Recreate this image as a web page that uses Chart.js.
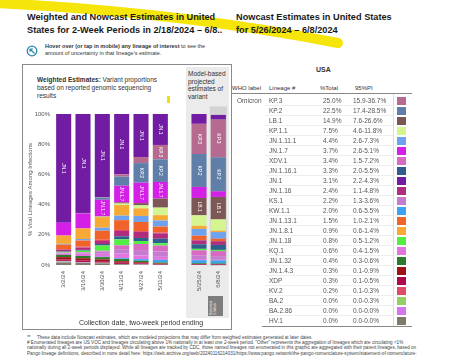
<!DOCTYPE html>
<html><head><meta charset="utf-8">
<script src="https://cdn.jsdelivr.net/npm/chart.js@4/dist/chart.umd.min.js"></script>
<style>
body{margin:0;width:450px;height:364px;overflow:hidden;background:#fff;font-family:"Liberation Sans",Arial,sans-serif;position:relative;color:#333;}
.abs{position:absolute;white-space:nowrap;}
.ttl{font-weight:bold;font-size:9.2px;line-height:13px;color:#1a1a1a;}
.row{position:absolute;font-size:6.5px;color:#555;white-space:nowrap;}
</style></head><body>
<svg class="abs" style="left:0;top:0" width="450" height="60"><path d="M -5 3 Q 180 12 338 43" stroke="#f5e50a" stroke-width="10" fill="none" stroke-linecap="round"/></svg>
<div class="abs ttl" style="left:27px;top:11px;width:199px;overflow:hidden;">Weighted and Nowcast Estimates in United<br>States for 2-Week Periods in 2/18/2024 – 6/8..</div>
<div class="abs ttl" style="left:236px;top:11px;">Nowcast Estimates in United States<br>for 5/26/2024 – 6/8/2024</div>
<svg class="abs" style="left:26px;top:45px" width="12" height="12"><circle cx="6" cy="6" r="4.8" fill="none" stroke="#2a86ad" stroke-width="1.3"/><path d="M4 4 L8.5 8.5 M4 4 L4 7 M4 4 L7 4" stroke="#2a86ad" stroke-width="1.1" fill="none"/></svg>
<div class="abs" style="left:45px;top:43px;font-size:5.5px;line-height:7px;color:#333;"><b>Hover over (or tap in mobile) any lineage of interest</b> to see the<br>amount of uncertainty in that lineage's estimate.</div>
<div class="abs" style="left:22px;top:64px;width:208px;height:264px;border:1px solid #8a8a8a;"></div>
<div class="abs" style="left:186px;top:67px;width:43px;height:251px;background:#ebebeb;"></div>
<div class="abs" style="left:37px;top:76px;font-size:6.5px;line-height:8px;color:#333;"><b>Weighted Estimates:</b> Variant proportions<br>based on reported genomic sequencing<br>results</div>
<div class="abs" style="left:188px;top:70px;font-size:6.5px;line-height:7.5px;color:#333;">Model-based<br>projected<br>estimates of<br>variant</div>
<div class="abs" style="left:167px;top:96px;width:3px;height:7px;background:#f2e000;"></div>
<div class="abs" style="left:208px;top:296px;width:15px;height:20px;background:#7d7d7d;"></div>
<div class="abs" style="left:209px;top:315px;transform-origin:0 0;transform:rotate(-90deg);font-size:3.6px;line-height:4.2px;color:#fff;">Selected<br>2-Week</div>
<div id="wrap" class="abs" style="left:22px;top:64px;width:210px;height:266px;"><canvas id="c"></canvas></div>
<div class="abs" style="left:27px;top:335px;width:398px;overflow:hidden;font-size:4.6px;line-height:5.2px;color:#444;">**&nbsp;&nbsp;&nbsp;&nbsp;&nbsp;These data include Nowcast estimates, which are modeled projections that may differ from weighted estimates generated at later dates.<br># Enumerated lineages are US VOC and lineages circulating above 1% nationally in at least one 2-week period. "Other" represents the aggregation of lineages which are circulating &lt;1%<br>nationally during all 2-week periods displayed. While all lineages are tracked by CDC, those named lineages not enumerated in this graphic are aggregated with their parent lineages, based on<br>Pango lineage definitions, described in more detail here: https://web.archive.org/web/20240116214031/https://www.pango.network/the-pango-nomenclature-system/statement-of-nomenclature-</div>
<div id="tbl"></div>
<script>
// ---- data ----
const periods = ['3/2/24','3/16/24','3/30/24','4/13/24','4/27/24','5/11/24','','5/25/24','6/8/24'];
const yTicks = [0,20,40,60,80,100];

const tableLineages = ['KP.3','KP.2','LB.1','KP.1.1','JN.1.11.1','JN.1.7','XDV.1','JN.1.16.1','JN.1','JN.1.16','KS.1','KW.1.1','JN.1.13.1','JN.1.8.1','JN.1.18','KQ.1','JN.1.32','JN.1.4.3','XDP','KV.2','BA.2','BA.2.86','HV.1'];
const tablePct = [25.0,22.5,14.9,7.5,4.4,3.7,3.4,3.3,3.1,2.4,2.2,2.0,1.5,0.9,0.8,0.6,0.4,0.3,0.3,0.2,0.0,0.0,0.0];
const tablePI = ['15.9-36.7%','17.4-28.5%','7.6-26.6%','4.6-11.8%','2.6-7.3%','2.6-5.1%','1.5-7.2%','2.0-5.5%','2.2-4.3%','1.1-4.8%','1.3-3.6%','0.6-5.5%','1.0-2.1%','0.6-1.4%','0.5-1.2%','0.4-1.5%','0.3-0.6%','0.1-0.9%','0.1-0.5%','0.1-0.3%','0.0-0.3%','0.0-0.0%','0.0-0.0%'];
const tableColors = ['#b66a8f','#5f7ea8','#7d5656','#d4f590','#6ea2ee','#d41fe6','#d86ac4','#2e5e8e','#721ca3','#b02c7c','#c47bd0','#3ca2f2','#f2632a','#f7a936','#52ee44','#e274e0','#2c7a2c','#9c1414','#b0084e','#e24a6a','#92d066','#d476f2','#7e7a6c'];

// period values (% of infections); null marks the gap between weighted and nowcast bars
const sJN1      = [72, 65.5, 55, 40, 28.5, 20.5, null, 6.5, 3.1];
const sKP3      = [0, 0, 0.3, 1.5, 4, 9.5, null, 20, 25.0];
const sKP2      = [0, 0.3, 1.5, 6, 13, 15, null, 21.8, 22.5];
const sJN17     = [8.5, 10, 11, 11, 13.5, 11, null, 7.3, 3.7];
const sLB1      = [0, 0, 0.2, 0.8, 1.5, 6, null, 11.5, 14.9];
const sKP11     = [0, 0, 0.3, 1, 2, 5, null, 7, 7.5];
const sJN181    = [5.5, 7, 7, 7, 5, 3.5, null, 2, 0.9];
const sJN1111   = [0.5, 1, 2, 3, 4, 4, null, 4.5, 4.4];
const sJN1131   = [3, 4, 6, 6.5, 6, 4, null, 2.8, 1.5];
const sKV2      = [0.5, 0.7, 0.8, 0.7, 0.6, 0.5, null, 0.3, 0.2];
const sJN116    = [1, 1.5, 2, 3.5, 4, 3.6, null, 2.6, 2.4];
const sJN1161   = [0.3, 0.5, 1, 2, 2, 3, null, 3, 3.3];
const sJN118    = [0.5, 1, 3.5, 4, 2, 1.5, null, 1, 0.8];
const sXDV1     = [0, 0.2, 0.5, 2.5, 4, 4, null, 3.5, 3.4];
const sKS1      = [0.5, 0.8, 1.5, 3, 3.5, 3.5, null, 2.3, 2.2];
const sKQ1      = [1, 1.5, 2, 3, 2.5, 2, null, 0.7, 0.6];
const sKW11     = [0, 0, 0.2, 0.5, 1.1, 1.7, null, 2, 2.0];
const sJN132    = [1.5, 1.5, 1.5, 1.5, 1, 0.7, null, 0.5, 0.4];
const sJN143    = [1.5, 1.5, 1.2, 1, 0.7, 0.5, null, 0.4, 0.3];
const sXDP      = [1, 1, 1, 0.8, 0.6, 0.4, null, 0.3, 0.3];
const sBA2      = [0.5, 0.3, 0.2, 0.1, 0.1, 0, null, 0, 0];
const sBA286    = [0.5, 0.3, 0.2, 0.1, 0.1, 0, null, 0, 0];
const sHV1      = [1.7, 1.4, 1.1, 0.5, 0.3, 0.1, null, 0, 0];

// stacking order, top of bar to bottom
const stackOrder = [['JN.1',sJN1],['KP.3',sKP3],['KP.2',sKP2],['JN.1.7',sJN17],['LB.1',sLB1],['KP.1.1',sKP11],['JN.1.8.1',sJN181],['JN.1.11.1',sJN1111],['JN.1.13.1',sJN1131],['KV.2',sKV2],['JN.1.16',sJN116],['JN.1.16.1',sJN1161],['JN.1.18',sJN118],['XDV.1',sXDV1],['KS.1',sKS1],['KQ.1',sKQ1],['KW.1.1',sKW11],['JN.1.32',sJN132],['JN.1.4.3',sJN143],['XDP',sXDP],['BA.2',sBA2],['BA.2.86',sBA286],['HV.1',sHV1]];

const colorOf = n => tableColors[tableLineages.indexOf(n)];

// ---- table ----
(function(){
  const t = document.getElementById('tbl');
  let h = '';
  h += '<div class="abs" style="left:316px;top:66px;font-size:7px;font-weight:bold;color:#333;">USA</div>';
  h += '<div class="row" style="left:232px;top:85px;font-size:6px;color:#333;">WHO label</div>';
  h += '<div class="row" style="left:269px;top:85px;font-size:6px;color:#333;">Lineage #</div>';
  h += '<div class="row" style="left:320px;top:85px;font-size:6px;color:#333;">%Total</div>';
  h += '<div class="row" style="left:355px;top:85px;font-size:6px;color:#333;">95%PI</div>';
  h += '<div class="abs" style="left:232px;top:93px;width:180px;height:1px;background:#888;"></div>';
  h += '<div class="abs" style="left:231px;top:94px;width:1px;height:233px;background:#888;"></div>';
  h += '<div class="abs" style="left:393px;top:94px;width:1px;height:232px;background:#ddd;"></div>';
  h += '<div class="row" style="left:237px;top:97px;">Omicron</div>';
  tableLineages.forEach((n,i)=>{
    const y = 97 + i*10;
    h += `<div class="row" style="left:269px;top:${y}px;">${n}</div>`;
    h += `<div class="row" style="left:323px;top:${y}px;">${tablePct[i].toFixed(1)}%</div>`;
    h += `<div class="row" style="left:353px;top:${y}px;">${tablePI[i]}</div>`;
    h += `<div class="abs" style="left:397px;top:${y-0.5}px;width:9px;height:8px;background:${tableColors[i]};"></div>`;
    if(i>0) h += `<div class="abs" style="left:265px;top:${y-2}px;width:128px;height:1px;background:#eee;"></div>`;
  });
  h += '<div class="abs" style="left:262px;top:326px;width:150px;height:1px;background:#888;"></div>';
  t.innerHTML = h;
})();

// ---- chart ----
const highlightPlugin = {
  id:'hl',
  beforeDatasetsDraw(chart){
    const ctx = chart.ctx, x = chart.scales.x, y = chart.scales.y;
    const el = chart.getDatasetMeta(0).data[8];
    const bw = el.width;
    const top = y.getPixelForValue(105);
    ctx.save(); ctx.fillStyle = '#d3d3d3';
    ctx.fillRect(x.getPixelForValue(8) - bw/2 - 1, top, bw + 2, chart.chartArea.bottom - top + 1);
    ctx.restore();
  }
};
const labelPlugin = {
  id:'lbl',
  afterDatasetsDraw(chart){
    const ctx = chart.ctx;
    ctx.save();
    ctx.font = '5px "Liberation Sans", Arial';
    ctx.fillStyle = '#fff'; ctx.textAlign = 'center'; ctx.textBaseline = 'middle';
    chart.data.datasets.forEach((ds,i)=>{
      chart.getDatasetMeta(i).data.forEach((el,j)=>{
        if(ds.data[j]==null) return;
        const h = Math.abs(el.base - el.y);
        const w = ctx.measureText(ds.label).width;
        if(h >= w + 2){
          ctx.save(); ctx.translate(el.x, (el.y + el.base)/2); ctx.rotate(Math.PI/2);
          ctx.fillText(ds.label, 0, 0); ctx.restore();
        }
      });
    });
    ctx.restore();
  }
};

const datasets = stackOrder.slice().reverse().map(([name, data]) => ({
  label:name, data, backgroundColor:colorOf(name), borderWidth:0,
  barPercentage:0.78, categoryPercentage:1.0, stack:'s'
}));

new Chart(document.getElementById('c'), {
  type:'bar',
  data:{labels:periods, datasets},
  plugins:[highlightPlugin, labelPlugin],
  options:{
    responsive:true, maintainAspectRatio:false, animation:false, devicePixelRatio:1,
    layout:{padding:{top:50,right:4,left:0,bottom:0}},
    plugins:{legend:{display:false}, tooltip:{enabled:false}},
    scales:{
      x:{stacked:true, grid:{display:false, drawTicks:false}, border:{display:false},
         afterFit:s=>{s.height=65;},
         ticks:{font:{size:6, family:'"Liberation Sans", Arial'}, color:'#555', minRotation:90, maxRotation:90, padding:6, autoSkip:false},
         title:{display:true, text:'Collection date, two-week period ending', font:{size:7, family:'"Liberation Sans", Arial'}, color:'#333', padding:{top:0,bottom:3}}},
      y:{stacked:true, min:0, max:100, grid:{display:false, drawTicks:false}, border:{display:false},
         afterFit:s=>{s.width=32;},
         afterBuildTicks:s=>{s.ticks = yTicks.map(v=>({value:v}));},
         ticks:{font:{size:6, family:'"Liberation Sans", Arial'}, color:'#555', padding:4, callback:v=>v+'%'},
         title:{display:true, text:'% Viral Lineages Among Infections', font:{size:6, family:'"Liberation Sans", Arial'}, color:'#555', padding:{top:5,bottom:0}}}
    }
  }
});
</script>
</body></html>
